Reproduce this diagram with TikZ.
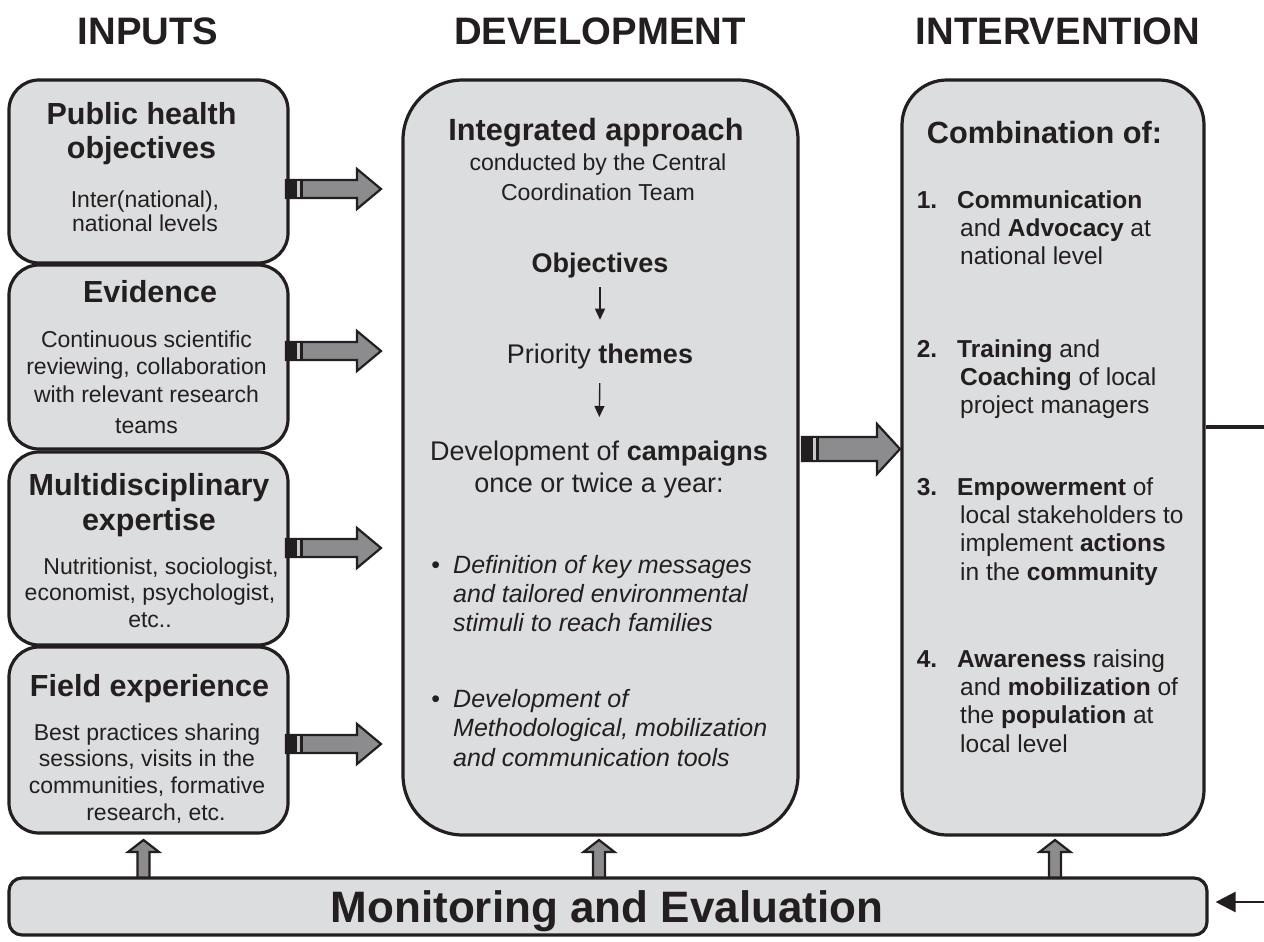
\documentclass[tikz,border=0pt]{standalone}
\usepackage{fontspec}
\setmainfont{Liberation Sans}
\usetikzlibrary{arrows.meta}
\definecolor{boxc}{HTML}{DCDDDE}
\definecolor{linec}{HTML}{231F20}
\definecolor{arrc}{HTML}{8C8C8E}
\definecolor{stripc}{HTML}{C8C9CA}
\tikzset{
  box/.style={draw=linec, line width=3.2pt, fill=boxc, inner sep=0pt},
  lbox/.style={box, rounded corners=30pt, minimum width=279pt},
  hd/.style={font=\bfseries\fontsize{38.3}{40}\selectfont, text=linec, anchor=base, inner sep=0pt},
  ttl/.style={font=\bfseries\fontsize{30.5}{34}\selectfont, text=linec, inner sep=0pt, align=center},
  bod/.style={font=\fontsize{23}{27}\selectfont, text=linec, inner sep=0pt, align=center},
  flow/.style={font=\fontsize{27}{32}\selectfont, text=linec, inner sep=0pt, align=center},
  bul/.style={font=\itshape\fontsize{25}{29}\selectfont, text=linec, inner sep=0pt, align=left, anchor=north west},
  itm/.style={font=\fontsize{24.5}{28.4}\selectfont, text=linec, inner sep=0pt, align=left, anchor=north west},
  sarr/.style={draw=linec, line width=1.4pt, -{Triangle[length=11pt,width=10pt]}},
  conn/.style={draw=linec, line width=3.6pt},
  pics/harrow/.style args={#1/#2/#3/#4}{code={
    \filldraw[fill=arrc, draw=linec, line width=2.2pt, line join=miter]
      (0,-#3) -- (#1,-#3) -- (#1,-#4) -- (#2,0) -- (#1,#4) -- (#1,#3) -- (0,#3) -- cycle;
    \fill[linec] (0,-#3-1) rectangle (17,#3+1);
    \fill[stripc] (11,-#3+1) rectangle (14,#3-1);
  }},
  pics/varrow/.style={code={
    \filldraw[fill=arrc, draw=linec, line width=2.2pt, line join=miter]
      (-6,0) -- (-6,-27) -- (-15.5,-27) -- (0,-39) -- (15.5,-27) -- (6,-27) -- (6,0);
  }}
}
\begin{document}
\begin{tikzpicture}[x=1pt,y=-1pt]
\useasboundingbox (0,0) rectangle (1264,942);

% headers
\node[hd] (h1) at (148,45) {INPUTS};
\node[hd] (h2) at (600,45) {DEVELOPMENT};
\node[hd] (h3) at (1058,45) {INTERVENTION};

% vertical arrows (under monitoring box)
\pic at (143.5,879) {varrow};
\pic at (599,879) {varrow};
\pic at (1055,879) {varrow};

% boxes
\node[lbox, minimum height=183pt] (b1) at (148.5,171.5) {};
\node[lbox, minimum height=184pt] (b2) at (148.5,357) {};
\node[lbox, minimum height=193pt] (b3) at (148.5,548.5) {};
\node[lbox, minimum height=186pt] (b4) at (148.5,740) {};
\node[box, rounded corners=60pt, minimum width=395pt, minimum height=755pt] (mid) at (600.5,457.5) {};
\node[box, rounded corners=45pt, minimum width=302pt, minimum height=755pt] (rgt) at (1053,457.5) {};
\node[box, rounded corners=13pt, minimum width=1198pt, minimum height=57pt] (mon) at (608,906.5) {};

% left box texts
\node[ttl, anchor=north] (t1) at (141.5,100.9) {\strut Public health\\objectives};
\node[bod, anchor=north, font=\fontsize{23}{24}\selectfont] (s1) at (145,190.2) {\strut Inter(national),\\national levels};
\node[ttl, anchor=base] (t2) at (150,302) {Evidence};
\node[bod, anchor=north, font=\fontsize{23}{27.5}\selectfont] (s2) at (146.5,327.75) {\strut Continuous scientific\\reviewing, collaboration\\with relevant research\\[3.5pt]teams};
\node[ttl, anchor=north, font=\bfseries\fontsize{30.5}{35}\selectfont] (t3) at (149,470.5) {\strut Multidisciplinary\\expertise};
\node[bod, anchor=north, font=\fontsize{23}{26.5}\selectfont] (s3) at (150,555.45) {\strut\hspace*{22pt}Nutritionist, sociologist,\\economist, psychologist,\\etc..};
\node[ttl, anchor=base] (t4) at (149.5,696) {Field experience};
\node[bod, anchor=north, font=\fontsize{23}{26.7}\selectfont] (s4) at (147,721.3) {\strut Best practices sharing\\sessions, visits in the\\communities, formative\\\hspace*{18pt}research, etc.};

% block arrows left -> middle
\pic at (286,189) {harrow=71/95/9/20};
\pic at (286,351) {harrow=71/95/9/20};
\pic at (286,548) {harrow=71/95/9/20};
\pic at (286,744) {harrow=71/95/9/20};
% middle -> right
\pic at (802,449) {harrow=75/98/12/25};

% middle texts
\node[ttl, anchor=base, font=\bfseries\fontsize{30.7}{34}\selectfont] (m1) at (596,140) {Integrated approach};
\node[bod, anchor=north, font=\fontsize{23.1}{30}\selectfont] (m2) at (598,149) {\strut conducted by the Central\\Coordination Team};
\node[flow, anchor=base, font=\bfseries\fontsize{27}{32}\selectfont] (obj) at (600,272) {Objectives};
\node[flow, anchor=base] (pri) at (600,363) {Priority \textbf{themes}};
\node[flow, anchor=north] (dev) at (599,437.6) {\strut Development of \textbf{campaigns}\\once or twice a year:};
\draw[sarr, shorten <=9.3pt, shorten >=23.5pt] (obj.south) -- (pri.north);
\draw[sarr, shorten <=14.3pt, shorten >=20.6pt] (pri.south) -- (dev.north);
\node[bul] (bu1) at (453,552.7) {\strut\llap{\upshape•\hspace{13pt}}Definition of key messages\\and tailored environmental\\stimuli to reach families};
\node[bul, font=\itshape\fontsize{25}{29.5}\selectfont] (bu2) at (453,686.35) {\strut\llap{\upshape•\hspace{13pt}}Development of\\Methodological, mobilization\\and communication tools};

% right texts
\node[ttl, anchor=base, font=\bfseries\fontsize{30.7}{34}\selectfont] (r0) at (1044.5,143) {Combination of:};
\node[itm] (r1) at (957,188.1) {\strut\llap{\textbf{1.}\hspace{20pt}}\textbf{Communication}\\\hspace*{3pt}and \textbf{Advocacy} at\\\hspace*{3pt}national level};
\node[itm] (r2) at (957,337.1) {\strut\llap{\textbf{2.}\hspace{20pt}}\textbf{Training} and\\\hspace*{3pt}\textbf{Coaching} of local\\\hspace*{3pt}project managers};
\node[itm] (r3) at (957,475.1) {\strut\llap{\textbf{3.}\hspace{20pt}}\textbf{Empowerment} of\\\hspace*{3pt}local stakeholders to\\\hspace*{3pt}implement \textbf{actions}\\\hspace*{3pt}in the \textbf{community}};
\node[itm] (r4) at (957,647.1) {\strut\llap{\textbf{4.}\hspace{20pt}}\textbf{Awareness} raising\\\hspace*{3pt}and \textbf{mobilization} of\\\hspace*{3pt}the \textbf{population} at\\\hspace*{3pt}local level};

% monitoring
\node[anchor=base, inner sep=0pt, text=linec, font=\bfseries\fontsize{44}{48}\selectfont] (mt) at (607,922) {Monitoring and Evaluation};

% feedback connectors
\coordinate (re) at (1264,427);
\coordinate (fe) at (1264,902);
\draw[conn] (rgt.east |- re) -- (re);
\draw[draw=linec, line width=2.6pt, -{Triangle[length=20pt,width=20pt]}, shorten >=7pt] (fe) -- (mon.east |- fe);
\end{tikzpicture}
\end{document}
